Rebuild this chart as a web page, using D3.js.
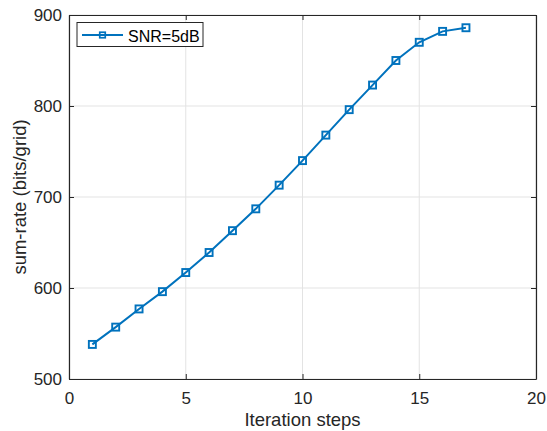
<!DOCTYPE html>
<html><head><meta charset="utf-8">
<script src="https://cdn.jsdelivr.net/npm/d3@7"></script>
<style>body{margin:0;background:#fff}svg{display:block;font-family:"Liberation Sans",Arial,sans-serif}</style>
</head><body><svg id="c" width="547" height="431"></svg>
<script>
const steps = [1,2,3,4,5,6,7,8,9,10,11,12,13,14,15,16,17];
const sumRate = [538,557,577,596,617,639,663,687,713,740,768,796,823,850,870,882,886];
const xTicks = [0,5,10,15,20];
const yTicks = [500,600,700,800,900];
const seriesName = "SNR=5dB";

const svg = d3.select("#c");
const L=69, T=15, R=536, B=379;
const x = d3.scaleLinear().domain([0,20]).range([L,R]);
const y = d3.scaleLinear().domain([500,900]).range([B,T]);
const col = "#0072BD", axc = "#262626";

// grid
svg.append("g").selectAll("line").data(xTicks).join("line")
  .attr("x1",d=>x(d)).attr("x2",d=>x(d)).attr("y1",T).attr("y2",B)
  .attr("stroke","#e3e3e3").attr("stroke-width",1);
svg.append("g").selectAll("line").data(yTicks).join("line")
  .attr("x1",L).attr("x2",R).attr("y1",d=>y(d)).attr("y2",d=>y(d))
  .attr("stroke","#e3e3e3").attr("stroke-width",1);

// axes
const fs = 17;
const xa = svg.append("g").attr("transform",`translate(0,${B})`)
  .call(d3.axisBottom(x).tickValues(xTicks).tickSizeInner(-5).tickSizeOuter(0).tickPadding(13));
const ya = svg.append("g").attr("transform",`translate(${L},0)`)
  .call(d3.axisLeft(y).tickValues(yTicks).tickSizeInner(-5).tickSizeOuter(0).tickPadding(7));
const xt = svg.append("g").attr("transform",`translate(0,${T})`)
  .call(d3.axisTop(x).tickValues(xTicks).tickSizeInner(-5).tickSizeOuter(0).tickFormat(""));
const yr = svg.append("g").attr("transform",`translate(${R},0)`)
  .call(d3.axisRight(y).tickValues(yTicks).tickSizeInner(-5).tickSizeOuter(0).tickFormat(""));
[xa,ya,xt,yr].forEach(g=>{
  g.select(".domain").attr("stroke",axc).attr("stroke-width",1.2);
  g.selectAll(".tick line").attr("stroke",axc);
  g.selectAll("text").attr("fill",axc).style("font-size",fs+"px").style("font-family","Liberation Sans, Arial, sans-serif");
});

// line
svg.append("path").datum(steps.map((s,i)=>[s,sumRate[i]]))
  .attr("d",d3.line().x(d=>x(d[0])).y(d=>y(d[1])))
  .attr("fill","none").attr("stroke",col).attr("stroke-width",2);
const ms=7;
svg.append("g").selectAll("rect").data(steps.map((s,i)=>[s,sumRate[i]])).join("rect")
  .attr("x",d=>x(d[0])-ms/2).attr("y",d=>y(d[1])-ms/2).attr("width",ms).attr("height",ms)
  .attr("fill","none").attr("stroke",col).attr("stroke-width",1.9);

// labels
svg.append("text").attr("x",(L+R)/2).attr("y",426).attr("text-anchor","middle")
  .attr("fill",axc).style("font-size","18.5px").text("Iteration steps");
svg.append("text").attr("transform",`translate(26,${(T+B)/2}) rotate(-90)`).attr("text-anchor","middle")
  .attr("fill",axc).style("font-size","18.5px").text("sum-rate (bits/grid)");

// legend
const lg = svg.append("g");
lg.append("rect").attr("x",77).attr("y",22.5).attr("width",126).attr("height",24)
  .attr("fill","#fff").attr("stroke",axc).attr("stroke-width",1);
lg.append("line").attr("x1",82).attr("x2",123).attr("y1",35).attr("y2",35).attr("stroke",col).attr("stroke-width",2);
const lms=5.5;
lg.append("rect").attr("x",102.5-lms/2).attr("y",35-lms/2).attr("width",lms).attr("height",lms)
  .attr("fill","none").attr("stroke",col).attr("stroke-width",1.7);
lg.append("text").attr("x",128).attr("y",41.5).attr("fill","#000").style("font-size","16px").text(seriesName);
</script></body></html>
